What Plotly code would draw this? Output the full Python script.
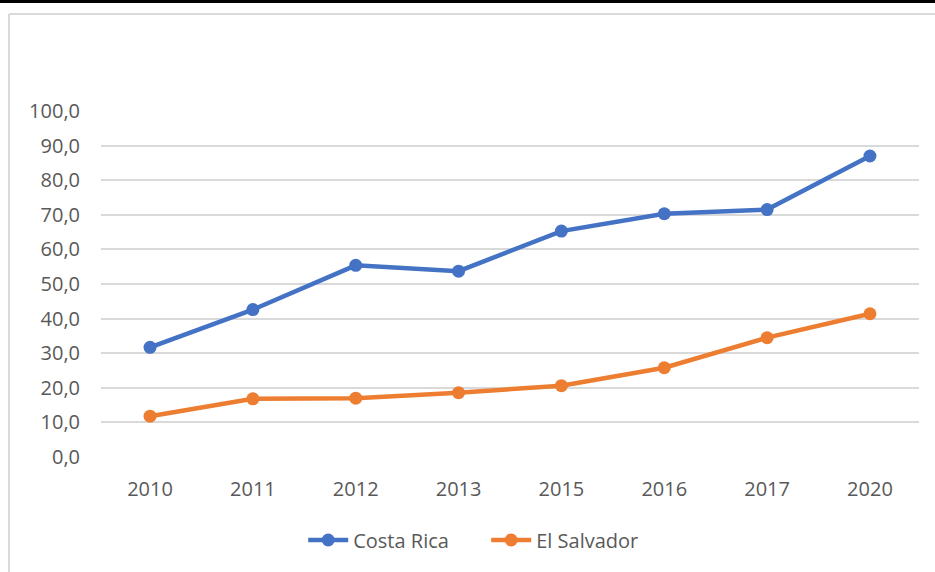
import plotly.graph_objects as go

# Data
years = ["2010", "2011", "2012", "2013", "2015", "2016", "2017", "2020"]
costa_rica = [31.7, 42.6, 55.4, 53.7, 65.3, 70.3, 71.5, 87.0]
el_salvador = [11.8, 16.8, 17.0, 18.6, 20.6, 25.8, 34.5, 41.4]
y_ticks = [0, 10, 20, 30, 40, 50, 60, 70, 80, 90, 100]

W, H = 935, 572
M_L, M_R, M_T, M_B = 101, 16, 111, 115
PW, PH = W - M_L - M_R, H - M_T - M_B

TEXT = "#595959"
GRID = "#d9d9d9"
FONT = "Open Sans, Noto Sans, sans-serif"


def px_x(px):
    return (px - M_L) / PW


def px_y(py):
    return (H - M_B - py) / PH


fig = go.Figure()
fig.add_trace(go.Scatter(
    x=years, y=costa_rica, name="Costa Rica", mode="lines+markers",
    line=dict(color="#4472C4", width=4.5),
    marker=dict(size=13, color="#4472C4"),
))
fig.add_trace(go.Scatter(
    x=years, y=el_salvador, name="El Salvador", mode="lines+markers",
    line=dict(color="#ED7D31", width=4.5),
    marker=dict(size=13, color="#ED7D31"),
))

shapes = [
    # dark strip across the top edge
    dict(type="rect", xref="paper", yref="paper",
         x0=px_x(0), x1=px_x(W), y0=px_y(3), y1=px_y(-2),
         fillcolor="black", line=dict(width=0), layer="above"),
    # chart frame: top and left edges
    dict(type="line", xref="paper", yref="paper",
         x0=px_x(9), x1=px_x(W + 2), y0=px_y(14), y1=px_y(14),
         line=dict(color=GRID, width=2)),
    dict(type="line", xref="paper", yref="paper",
         x0=px_x(9), x1=px_x(9), y0=px_y(14), y1=px_y(H + 2),
         line=dict(color=GRID, width=2)),
]

fig.update_layout(
    width=W, height=H,
    margin=dict(l=M_L, r=M_R, t=M_T, b=M_B),
    paper_bgcolor="white", plot_bgcolor="white",
    separators=",.",
    font=dict(family=FONT, size=20, color=TEXT),
    showlegend=True,
    legend=dict(
        orientation="h", xref="container", yref="container",
        x=0.52, xanchor="center", y=1 - 540 / H, yanchor="middle",
        font=dict(size=20, color=TEXT), itemwidth=40,
        traceorder="normal", entrywidth=128,
    ),
    shapes=shapes,
)
fig.update_xaxes(
    type="category", showgrid=False, zeroline=False, showline=False,
    ticks="outside", ticklen=14, tickcolor="rgba(0,0,0,0)",
    tickfont=dict(size=20, color=TEXT),
)
fig.update_yaxes(
    range=[0, 100], tickvals=y_ticks, tickformat=".1f",
    showgrid=True, gridcolor=GRID, gridwidth=2,
    zeroline=False, showline=False,
    ticks="outside", ticklen=16, tickcolor="rgba(0,0,0,0)",
    tickfont=dict(size=20, color=TEXT),
)

fig.write_html("out.html")
